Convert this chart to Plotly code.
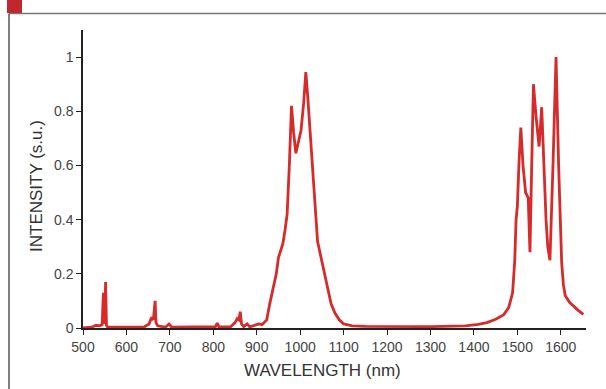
import plotly.graph_objects as go

wavelength = [500, 520, 530, 538, 544, 547, 548.5, 550, 552, 554, 557, 600, 640, 652, 658, 662, 666, 668, 672,
              690, 698, 704, 780, 805, 809, 813, 840, 850, 855, 859, 862, 865, 870, 878, 884, 895, 905, 912,
              918, 923, 930, 937, 945, 950, 955, 960, 965, 970, 975, 980, 985, 990, 995, 1002, 1008, 1013,
              1018, 1024, 1029, 1035, 1040, 1048, 1056, 1064, 1071, 1080, 1090, 1100, 1120, 1150, 1200,
              1300, 1380, 1410, 1430, 1450, 1468, 1480, 1489, 1494, 1497, 1500, 1504, 1508, 1513, 1519,
              1525, 1529, 1533, 1537, 1543, 1550, 1556, 1561, 1566, 1570, 1575, 1582, 1589, 1595, 1602,
              1606, 1610, 1620, 1629, 1640, 1652]
intensity = [0.0, 0.003, 0.01, 0.008, 0.012, 0.13, 0.02, 0.02, 0.17, 0.01, 0.003, 0.002, 0.003, 0.015, 0.04,
             0.03, 0.10, 0.02, 0.008, 0.003, 0.015, 0.003, 0.003, 0.005, 0.018, 0.004, 0.005, 0.02, 0.035,
             0.03, 0.06, 0.015, 0.005, 0.015, 0.004, 0.01, 0.015, 0.012, 0.02, 0.03, 0.09, 0.14, 0.2, 0.26,
             0.29, 0.31, 0.36, 0.42, 0.6, 0.82, 0.72, 0.645, 0.68, 0.73, 0.83, 0.945, 0.84, 0.70, 0.58,
             0.42, 0.32, 0.26, 0.20, 0.14, 0.09, 0.055, 0.03, 0.015, 0.008, 0.006, 0.005, 0.005, 0.008,
             0.013, 0.02, 0.032, 0.048, 0.075, 0.13, 0.25, 0.40, 0.45, 0.62, 0.74, 0.6, 0.50, 0.48, 0.28,
             0.6, 0.90, 0.78, 0.67, 0.815, 0.6, 0.40, 0.3, 0.25, 0.6, 1.0, 0.6, 0.24, 0.16, 0.12, 0.095,
             0.08, 0.065, 0.05]

x_ticks = [500, 600, 700, 800, 900, 1000, 1100, 1200, 1300, 1400, 1500, 1600]
y_ticks = [0, 0.2, 0.4, 0.6, 0.8, 1]
y_tick_labels = ["0", "0.2", "0.4", "0.6", "0.8", "1"]

fig = go.Figure()
fig.add_trace(go.Scatter(x=wavelength, y=intensity, mode="lines",
                         line=dict(color="#d62b2b", width=2.8), showlegend=False))

L, R, T, B = 83, 20, 30, 61
W, H = 606, 389
pw, ph = W - L - R, H - T - B


def px(xp):
    return (xp - L) / pw


def py(yp):
    return (H - B - yp) / ph


axis_common = dict(showline=True, linecolor="#222", linewidth=1.5, ticks="outside", ticklen=5,
                   tickcolor="#222", tickwidth=1.2, showgrid=False, zeroline=False,
                   tickfont=dict(family="Liberation Sans, Arial", size=14, color="#444"))

fig.update_xaxes(range=[500, 1658], tickvals=x_ticks, ticktext=[str(v) for v in x_ticks], **axis_common)
fig.update_yaxes(range=[0, 1.1], tickvals=y_ticks, ticktext=y_tick_labels, **axis_common)

fig.update_layout(
    width=W, height=H, margin=dict(l=L, r=R, t=T, b=B),
    paper_bgcolor="white", plot_bgcolor="white",
    font=dict(family="Liberation Sans, Arial"),
    annotations=[
        dict(text="INTENSITY (s.u.)", xref="paper", yref="paper", x=px(36), y=py(186),
             xanchor="center", yanchor="middle", textangle=-90, showarrow=False,
             font=dict(size=17, color="#333")),
        dict(text="WAVELENGTH (nm)", xref="paper", yref="paper", x=px(322), y=py(370),
             xanchor="center", yanchor="middle", showarrow=False,
             font=dict(size=17, color="#333")),
    ],
    shapes=[
        dict(type="line", xref="paper", yref="paper", x0=px(9), x1=px(606), y0=py(13.5), y1=py(13.5),
             line=dict(color="#777", width=1.5)),
        dict(type="line", xref="paper", yref="paper", x0=px(9), x1=px(9), y0=py(13.5), y1=py(389),
             line=dict(color="#555", width=1.5)),
        dict(type="rect", xref="paper", yref="paper", x0=px(7), x1=px(22), y0=py(0), y1=py(13),
             fillcolor="#c0282d", line=dict(width=0)),
    ],
)

fig.write_html("out.html", config={"displayModeBar": False},
               post_script="document.body.style.margin='0';document.body.style.overflow='hidden';")
